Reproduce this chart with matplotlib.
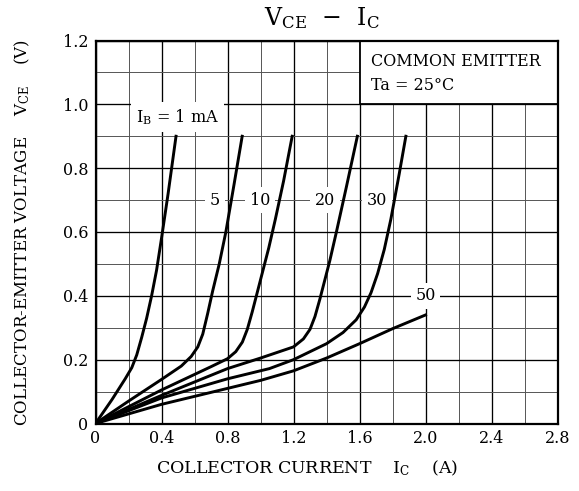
import matplotlib
matplotlib.use("Agg")
import matplotlib.pyplot as plt
from matplotlib.ticker import MultipleLocator, FixedLocator
from matplotlib.patches import Rectangle

plt.rcParams['font.family'] = ['DejaVu Serif']
plt.rcParams['mathtext.fontset'] = 'dejavuserif'

# ---- data (IC in A, VCE in V) ----
ib1_x = [0, 0.1, 0.18, 0.22, 0.25, 0.28, 0.31, 0.34, 0.37, 0.40, 0.44, 0.488]
ib1_y = [0, 0.075, 0.14, 0.175, 0.215, 0.27, 0.33, 0.40, 0.48, 0.58, 0.72, 0.9]

ib5_x = [0, 0.2, 0.4, 0.52, 0.58, 0.62, 0.65, 0.68, 0.71, 0.75, 0.79, 0.84, 0.889]
ib5_y = [0, 0.07, 0.138, 0.18, 0.21, 0.24, 0.28, 0.345, 0.415, 0.5, 0.6, 0.75, 0.9]

ib10_x = [0, 0.4, 0.7, 0.8, 0.85, 0.89, 0.92, 0.95, 0.98, 1.01, 1.05, 1.09, 1.14, 1.192]
ib10_y = [0, 0.105, 0.178, 0.203, 0.225, 0.255, 0.295, 0.35, 0.41, 0.47, 0.55, 0.64, 0.76, 0.9]

ib20_x = [0, 0.4, 0.8, 1.0, 1.2, 1.26, 1.30, 1.33, 1.36, 1.39, 1.42, 1.46, 1.52, 1.587]
ib20_y = [0, 0.088, 0.172, 0.205, 0.24, 0.265, 0.295, 0.335, 0.39, 0.45, 0.51, 0.6, 0.74, 0.9]

ib30_x = [0, 0.4, 0.8, 1.054, 1.2, 1.4, 1.5, 1.58, 1.63, 1.67, 1.71, 1.75, 1.79, 1.84, 1.881]
ib30_y = [0, 0.08, 0.14, 0.172, 0.2, 0.25, 0.285, 0.325, 0.365, 0.41, 0.47, 0.545, 0.64, 0.78, 0.9]

ib50_x = [0, 0.4, 0.8, 1.0, 1.2, 1.4, 1.6, 1.8, 2.0]
ib50_y = [0, 0.06, 0.11, 0.135, 0.165, 0.205, 0.25, 0.297, 0.34]

curves = [(ib1_x, ib1_y), (ib5_x, ib5_y), (ib10_x, ib10_y),
          (ib20_x, ib20_y), (ib30_x, ib30_y), (ib50_x, ib50_y)]

curve_labels = ["I$_{\\rm B}$ = 1 mA", "5", "10", "20", "30", "50"]
label_x = [0.496, 0.724, 0.997, 1.39, 1.704, 2.0]
label_y = [0.96, 0.70, 0.70, 0.70, 0.70, 0.40]

x_ticks = [0, 0.4, 0.8, 1.2, 1.6, 2.0, 2.4, 2.8]
x_tick_labels = ["0", "0.4", "0.8", "1.2", "1.6", "2.0", "2.4", "2.8"]
y_ticks = [0, 0.2, 0.4, 0.6, 0.8, 1.0, 1.2]
y_tick_labels = ["0", "0.2", "0.4", "0.6", "0.8", "1.0", "1.2"]

# ---- figure ----
fig = plt.figure(figsize=(5.79, 4.91), dpi=100)
ax = fig.add_axes([95.5/579, 1 - 423.5/491, (557.5-95.5)/579, (423.5-40.5)/491])
ax.set_xlim(0, 2.8)
ax.set_ylim(0, 1.2)

ax.xaxis.set_major_locator(FixedLocator(x_ticks))
ax.yaxis.set_major_locator(FixedLocator(y_ticks))
ax.xaxis.set_minor_locator(MultipleLocator(0.2))
ax.yaxis.set_minor_locator(MultipleLocator(0.1))
ax.set_xticklabels(x_tick_labels)
ax.set_yticklabels(y_tick_labels)
ax.tick_params(which='both', length=0, labelsize=11.5, pad=5)

ax.set_axisbelow(True)
ax.grid(which='major', color='black', lw=0.95)
ax.grid(which='minor', color='#555555', lw=0.7)
for s in ax.spines.values():
    s.set_linewidth(1.6)

for (cx, cy) in curves:
    ax.plot(cx, cy, color='black', lw=2.1, zorder=4, solid_joinstyle='round')

for t, lx, ly in zip(curve_labels, label_x, label_y):
    ax.text(lx, ly, t, ha='center', va='center', fontsize=11.5, zorder=3,
            bbox=dict(boxstyle='square,pad=0.3', fc='white', ec='none'))

# condition box
ax.add_patch(Rectangle((1.6, 1.0), 1.2, 0.2, fc='white', ec='black', lw=1.3, zorder=2))
ax.text(1.67, 1.133, "COMMON EMITTER", fontsize=11.5, va='center', ha='left', zorder=3)
ax.text(1.67, 1.06, "Ta = 25°C", fontsize=11.5, va='center', ha='left', zorder=3)

fig.text(322/579, 1 - 18/491, "V$_{\\rm CE}$  \u2212  I$_{\\rm C}$", ha='center', va='center', fontsize=17)
ax.set_xlabel("COLLECTOR CURRENT    I$_{\\rm C}$    (A)", fontsize=12.5)
ax.xaxis.set_label_coords((307 - 95.5) / 462, -(468 - 423.5) / 383)
ax.xaxis.label.set_va('center')
ax.set_ylabel("COLLECTOR-EMITTER VOLTAGE    V$_{\\rm CE}$    (V)", fontsize=12, labelpad=22)

fig.savefig("out.png", dpi=100)
